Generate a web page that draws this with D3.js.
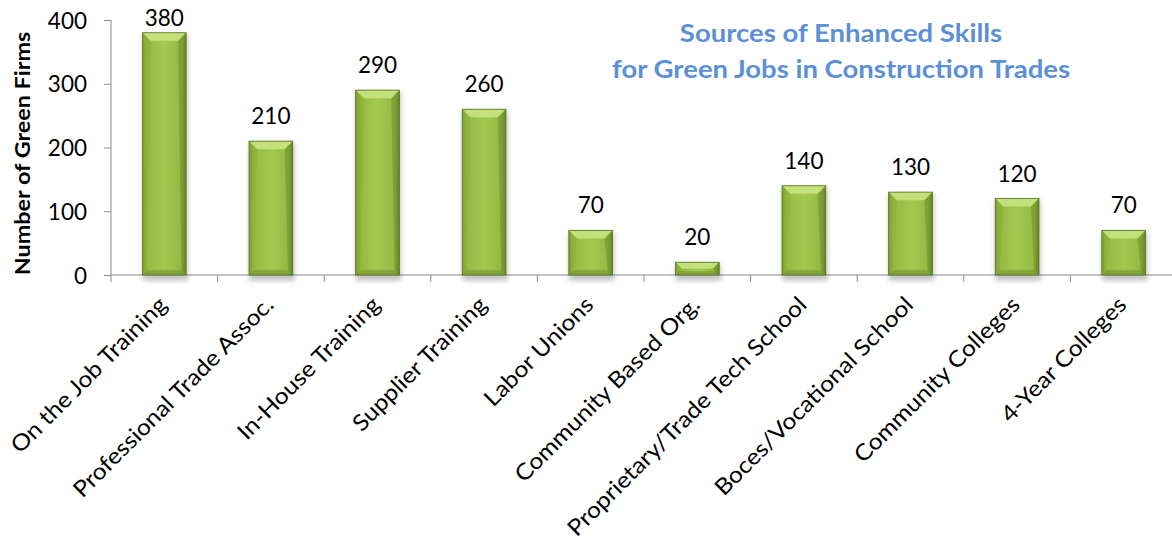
<!DOCTYPE html>
<html><head><meta charset="utf-8">
<script src="https://cdn.jsdelivr.net/npm/d3@7"></script>
<style>
body{margin:0;background:#fff;}
svg{display:block;font-family:Lato,Carlito,"Liberation Sans",sans-serif;}
</style></head>
<body><svg id="c" width="1172" height="541"></svg>
<script>
const categories = ["On the Job Training","Professional Trade Assoc.","In-House Training","Supplier Training","Labor Unions","Community Based Org.","Proprietary/Trade Tech School","Boces/Vocational School","Community Colleges","4-Year Colleges"];
const values = [380,210,290,260,70,20,140,130,120,70];
const yTicks = [0,100,200,300,400];
const titleLines = ["Sources of Enhanced Skills","for Green Jobs in Construction Trades"];
const yTitle = "Number of Green Firms";

const svg = d3.select("#c");
const x0 = 111, x1 = 111 + 106.6*10, yTop = 20, yBot = 275;
const x = d3.scaleBand().domain(categories).range([x0, x1]).paddingInner(0.59).paddingOuter(0.295);
const y = d3.scaleLinear().domain([0,400]).range([yBot, yTop]);

const defs = svg.append("defs");
const g1 = defs.append("linearGradient").attr("id","hg").attr("x1","0").attr("x2","1").attr("y1","0").attr("y2","0");
[[0,"#6f8f2c"],[0.1,"#93b943"],[0.5,"#a2c94f"],[0.9,"#93b943"],[1,"#617f22"]].forEach(s=>g1.append("stop").attr("offset",s[0]).attr("stop-color",s[1]));
const f = defs.append("filter").attr("id","sh").attr("x","-30%").attr("y","-30%").attr("width","160%").attr("height","160%");
f.append("feGaussianBlur").attr("stdDeviation",2.5);

// axes
const axisCol = "#8c8c8c";
const yAxis = d3.axisLeft(y).tickValues(yTicks).tickSize(7).tickPadding(17);
const ya = svg.append("g").attr("transform",`translate(${x0},0)`).call(yAxis);
ya.select(".domain").attr("stroke",axisCol).attr("d",`M0,${yTop}V${yBot}`);
ya.selectAll(".tick line").attr("stroke",axisCol);
ya.selectAll("text").attr("font-size",22.5).attr("fill","#000").attr("font-family","Lato,sans-serif").attr("dy","0.36em");

const xAxis = d3.axisBottom(x).tickSize(0).tickFormat("");
const xa = svg.append("g").attr("transform",`translate(0,${yBot})`).call(xAxis);
xa.select(".domain").attr("stroke",axisCol).attr("d",`M${x0},0H${x1}`);
const bounds = d3.range(categories.length+1).map(i=>x0 + i*(x1-x0)/categories.length);
svg.append("g").selectAll("line").data(bounds).join("line")
  .attr("x1",d=>d).attr("x2",d=>d).attr("y1",yBot).attr("y2",yBot+7).attr("stroke",axisCol);

// bars
const bars = svg.append("g").selectAll("g").data(categories).join("g");
bars.append("rect").attr("x",d=>x(d)).attr("y",(d,i)=>y(values[i])+2).attr("width",x.bandwidth()+2).attr("height",(d,i)=>yBot-y(values[i])+4)
  .attr("fill","#000").attr("opacity",0.22).attr("filter","url(#sh)");
bars.append("rect").attr("x",d=>x(d)).attr("y",(d,i)=>y(values[i])).attr("width",x.bandwidth()).attr("height",(d,i)=>yBot-y(values[i]))
  .attr("fill","url(#hg)");
const bv = 8;
const geo = (d,i)=>{const l=x(d), r=x(d)+x.bandwidth(), t=y(values[i]); return {l,r,t,b:Math.min(bv,(yBot-t)/2)};};
bars.append("path").attr("d",(d,i)=>{const {l,r,t,b}=geo(d,i);
  return `M${l},${t}L${r},${t}L${r-b},${t+b}L${l+b},${t+b}Z`;}).attr("fill","#c4e07a");
bars.append("path").attr("d",(d,i)=>{const {l,r,t,b}=geo(d,i);
  return `M${l},${yBot}L${r},${yBot}L${r-b*0.6},${yBot-b*0.6}L${l+b*0.6},${yBot-b*0.6}Z`;}).attr("fill","#7a9a33").attr("opacity",0.75);
bars.append("path").attr("d",(d,i)=>{const {l,r,t,b}=geo(d,i);
  return `M${r},${t}L${r},${yBot}L${r-b*0.6},${yBot-b*0.6}L${r-b},${t+b}Z`;}).attr("fill","#6d8d29").attr("opacity",0.55);
bars.append("path").attr("d",(d,i)=>{const {l,r,t,b}=geo(d,i);
  return `M${l},${t}L${l},${yBot}L${l+b*0.6},${yBot-b*0.6}L${l+b},${t+b}Z`;}).attr("fill","#8aae3b").attr("opacity",0.55);
bars.append("rect").attr("x",d=>x(d)).attr("y",(d,i)=>y(values[i])).attr("width",x.bandwidth()).attr("height",(d,i)=>yBot-y(values[i]))
  .attr("fill","none").attr("stroke","#58731f").attr("stroke-width",0.8);

// value labels
svg.append("g").selectAll("text").data(categories).join("text")
  .attr("x",d=>x(d)+x.bandwidth()/2).attr("y",(d,i)=>Math.max(y(values[i])-17,26))
  .attr("text-anchor","middle").attr("font-size",22.5).attr("fill","#000").text((d,i)=>values[i]);

// category labels
svg.append("g").selectAll("text").data(categories).join("text")
  .attr("transform",d=>`translate(${x(d)+x.bandwidth()/2-7},${yBot+20}) rotate(-45) scale(1.1,1)`)
  .attr("text-anchor","end").attr("dy","0.7em").attr("font-size",22.5).attr("fill","#000").text(d=>d);

// y title
svg.append("text").attr("transform",`translate(30,153.5) rotate(-90) scale(1.14,1)`)
  .attr("text-anchor","middle").attr("font-size",20.5).attr("font-weight","bold").attr("fill","#000").text(yTitle);

// chart title
svg.append("g").selectAll("text").data(titleLines).join("text")
  .attr("transform",(d,i)=>`translate(841,${42+i*36}) scale(1.1,1)`).attr("text-anchor","middle")
  .attr("font-size",25).attr("font-weight","bold").attr("fill","#5b8fd6").text(d=>d);
</script></body></html>
